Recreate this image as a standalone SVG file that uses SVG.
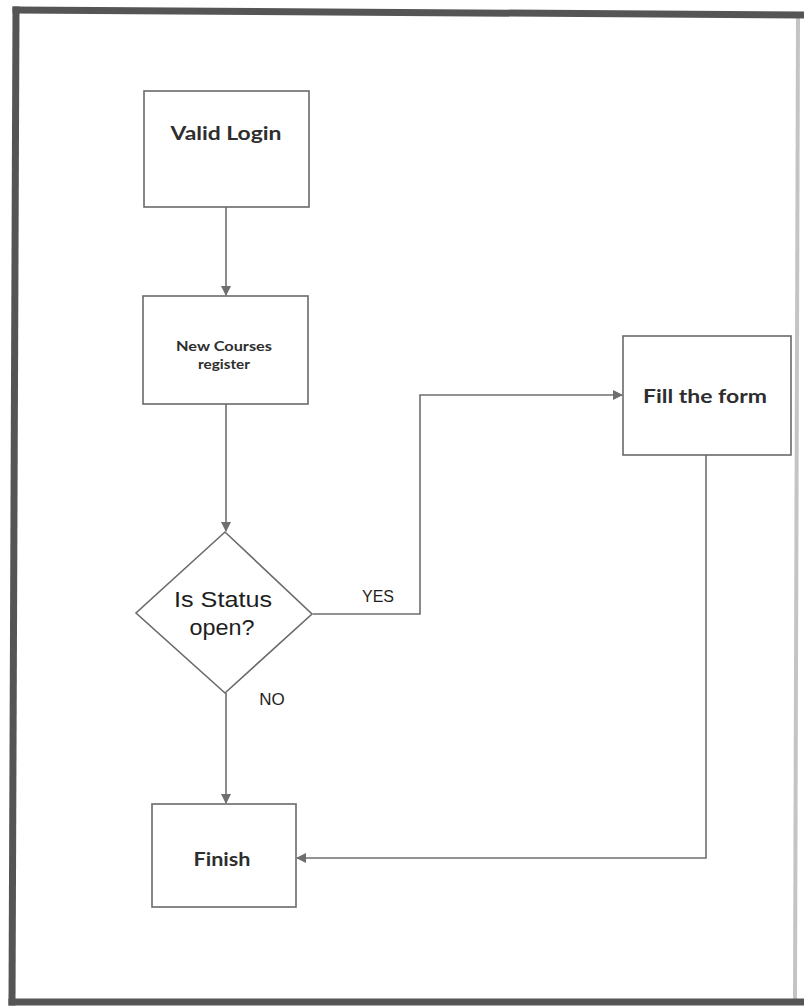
<svg xmlns="http://www.w3.org/2000/svg" width="804" height="1006" viewBox="0 0 804 1006">
  <style>
    .box { fill: #ffffff; stroke: #6a6a6a; stroke-width: 1.6; }
    .lbl { font-family: "Lato", "Open Sans", "Liberation Sans", sans-serif; font-weight: bold; fill: #2e2e2e; text-anchor: middle; }
    .arial { font-family: "Liberation Sans", Arial, sans-serif; fill: #1e1e1e; text-anchor: middle; }
    .wire { fill: none; stroke: #6e6e6e; stroke-width: 1.6; }
    .frame { stroke: #555555; stroke-width: 7; stroke-linecap: square; }
  </style>
  <defs>
    <marker id="arrow" viewBox="0 0 10 10" refX="9" refY="5" markerWidth="10" markerHeight="10" markerUnits="userSpaceOnUse" orient="auto">
      <path d="M0,0 L10,5 L0,10 Z" fill="#6e6e6e"/>
    </marker>
  </defs>

  <!-- page background and frame -->
  <rect x="0" y="0" width="804" height="1006" fill="#ffffff"/>
  <g id="frame">
    <line x1="798" y1="18" x2="795" y2="999" stroke="#c4c4c4" stroke-width="4"/>
    <line class="frame" x1="16" y1="10" x2="804" y2="15"/>
    <line class="frame" x1="16" y1="10" x2="12" y2="1002"/>
    <line class="frame" x1="12" y1="1002" x2="804" y2="1002"/>
  </g>

  <!-- connectors -->
  <g id="connectors">
    <path class="wire" d="M226,207 L226,295" marker-end="url(#arrow)"/>
    <path class="wire" d="M226,404 L226,531" marker-end="url(#arrow)"/>
    <path class="wire" d="M313,614 L420,614 L420,395 L622,395" marker-end="url(#arrow)"/>
    <path class="wire" d="M226,693 L226,803" marker-end="url(#arrow)"/>
    <path class="wire" d="M706,455 L706,858 L297,858" marker-end="url(#arrow)"/>
    <text class="arial" x="378" y="602" font-size="16">YES</text>
    <text class="arial" x="272" y="705" font-size="17">NO</text>
  </g>

  <g id="valid-login">
    <rect class="box" x="144" y="91" width="165" height="116"/>
    <text class="lbl" x="226" y="140" font-size="19" textLength="111" lengthAdjust="spacingAndGlyphs">Valid Login</text>
  </g>

  <g id="new-courses">
    <rect class="box" x="143" y="296" width="165" height="108"/>
    <text class="lbl" x="224" y="351" font-size="13" textLength="96" lengthAdjust="spacingAndGlyphs">New Courses</text>
    <text class="lbl" x="224" y="369" font-size="13" textLength="52" lengthAdjust="spacingAndGlyphs">register</text>
  </g>

  <g id="status-check">
    <path class="box" d="M225,532 L312,614 L225,693 L136,613 Z"/>
    <text class="arial" x="223" y="607" font-size="22" textLength="98" lengthAdjust="spacingAndGlyphs">Is Status</text>
    <text class="arial" x="222" y="635" font-size="22" textLength="65" lengthAdjust="spacingAndGlyphs">open?</text>
  </g>

  <g id="fill-form">
    <rect class="box" x="623" y="336" width="168" height="119"/>
    <text class="lbl" x="705" y="403" font-size="19" textLength="124" lengthAdjust="spacingAndGlyphs">Fill the form</text>
  </g>

  <g id="finish">
    <rect class="box" x="152" y="804" width="144" height="103"/>
    <text class="lbl" x="222" y="866" font-size="19" textLength="57" lengthAdjust="spacingAndGlyphs">Finish</text>
  </g>
</svg>
